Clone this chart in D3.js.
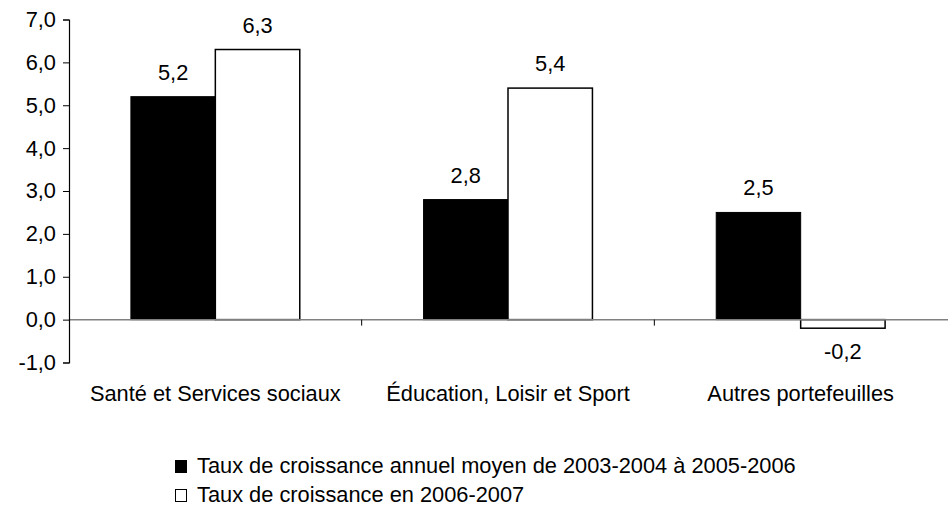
<!DOCTYPE html>
<html>
<head>
<meta charset="utf-8">
<script src="https://cdn.jsdelivr.net/npm/d3@7"></script>
<style>
  html, body { margin: 0; padding: 0; background: #fff; }
  svg { display: block; font-family: "Liberation Sans", Arial, sans-serif; }
</style>
</head>
<body>
<svg id="chart" width="948" height="506"></svg>
<script>
// Portfolio categories and growth rates (%)
const categories = ["Santé et Services sociaux", "Éducation, Loisir et Sport", "Autres portefeuilles"];
const seriesNames = [
  "Taux de croissance annuel moyen de 2003-2004 à 2005-2006",
  "Taux de croissance en 2006-2007"
];
const avgGrowth = [5.2, 2.8, 2.5];
const growth2007 = [6.3, 5.4, -0.2];
const yTicks = [-1, 0, 1, 2, 3, 4, 5, 6, 7];

const seriesValues = [avgGrowth, growth2007];
const seriesFill = ["#000000", "#ffffff"];
const FONT = "21.8px";

const svg = d3.select("#chart");
const margin = { left: 69, right: 1, top: 19.5, bottom: 143.5 };
const W = 948, H = 506;

const x = d3.scaleBand().domain(categories).range([margin.left, W - margin.right]).paddingInner(0).paddingOuter(0);
const y = d3.scaleLinear().domain([-1, 7]).range([H - margin.bottom, margin.top]);

const groupFrac = 0.577;
const xInner = d3.scaleBand().domain([0, 1])
  .range([x.bandwidth() * (1 - groupFrac) / 2, x.bandwidth() * (1 + groupFrac) / 2]);

const fmt = v => d3.format(".1f")(v).replace(".", ",").replace("−", "-");

// Bars
const groups = svg.append("g").selectAll("g").data(categories).join("g")
  .attr("transform", d => `translate(${x(d)},0)`);

groups.each(function (cat, ci) {
  const g = d3.select(this);
  seriesValues.forEach((vals, si) => {
    const v = vals[ci];
    const y0 = y(Math.max(0, v)), y1 = y(Math.min(0, v));
    g.append("rect")
      .attr("x", xInner(si))
      .attr("y", y0)
      .attr("width", xInner.bandwidth())
      .attr("height", y1 - y0)
      .attr("fill", seriesFill[si])
      .attr("stroke", "#000")
      .attr("stroke-width", si === 0 ? 1 : 1.5);
    g.append("text")
      .attr("x", xInner(si) + xInner.bandwidth() / 2)
      .attr("y", v >= 0 ? y(v) - 17 : y(v) + 31)
      .attr("text-anchor", "middle")
      .attr("font-size", FONT)
      .attr("fill", "#000")
      .text(fmt(v));
  });
});

// Zero baseline
svg.append("line")
  .attr("x1", margin.left).attr("x2", W)
  .attr("y1", y(0)).attr("y2", y(0))
  .attr("stroke", "#808080").attr("stroke-width", 1.5);

// Category separators on the baseline
categories.slice(1).forEach(c => {
  svg.append("line")
    .attr("x1", x(c)).attr("x2", x(c))
    .attr("y1", y(0)).attr("y2", y(0) + 6)
    .attr("stroke", "#000").attr("stroke-width", 1);
});

// Y axis
const yAxis = svg.append("g")
  .attr("transform", `translate(${margin.left},0)`)
  .call(d3.axisLeft(y).tickValues(yTicks).tickSize(6).tickPadding(7).tickFormat(fmt));
yAxis.select(".domain").attr("stroke", "#000").attr("stroke-width", 1.2);
yAxis.selectAll(".tick line").attr("stroke", "#000");
yAxis.selectAll(".tick text")
  .attr("font-size", FONT)
  .attr("font-family", "Liberation Sans, Arial, sans-serif")
  .attr("fill", "#000");

// Category labels
svg.append("g").selectAll("text").data(categories).join("text")
  .attr("x", d => x(d) + x.bandwidth() / 2)
  .attr("y", 401)
  .attr("text-anchor", "middle")
  .attr("font-size", FONT)
  .attr("fill", "#000")
  .text(d => d);

// Legend
const legend = svg.append("g").attr("transform", "translate(175,0)");
seriesNames.forEach((name, i) => {
  const base = 473 + i * 29;
  legend.append("rect")
    .attr("x", 0.5).attr("y", base - 12.5)
    .attr("width", 11).attr("height", 12)
    .attr("fill", seriesFill[i])
    .attr("stroke", "#000").attr("stroke-width", 1);
  legend.append("text")
    .attr("x", 22).attr("y", base)
    .attr("font-size", FONT)
    .attr("fill", "#000")
    .text(name);
});
</script>
</body>
</html>
